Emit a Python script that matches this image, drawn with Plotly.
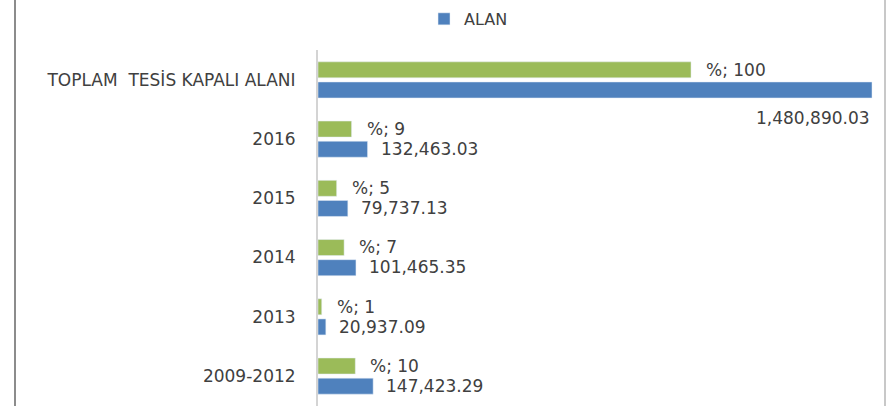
import plotly.graph_objects as go

# Facility indoor area by period, with each period's share of the total
categories = ["TOPLAM\u00a0 TESİS KAPALI ALANI", "2016", "2015", "2014", "2013", "2009-2012"]
alan = [1480890.03, 132463.03, 79737.13, 101465.35, 20937.09, 147423.29]
yuzde = [100, 9, 5, 7, 1, 10]

GREEN = "#9BBB59"
BLUE = "#4F81BD"
TEXT = "#404040"
FONT = "DejaVu Sans"

W, H = 894, 406
L, R, T, B = 318, 9, 50, 0

fig = go.Figure()

# share (%) on the secondary x axis, drawn above the area bar
fig.add_trace(go.Bar(
    y=categories, x=yuzde, orientation="h", xaxis="x2", yaxis="y",
    marker=dict(color=GREEN), width=0.27, offset=-0.30,
    name="%", showlegend=False, hoverinfo="skip",
))
# area on the primary x axis
fig.add_trace(go.Bar(
    y=categories, x=alan, orientation="h", xaxis="x", yaxis="y",
    marker=dict(color=BLUE), width=0.27, offset=0.04,
    name="ALAN", showlegend=True, hoverinfo="skip",
))

# value labels; y given as the category index so year-like names stay categorical
annotations = []
for i, (a, p) in enumerate(zip(alan, yuzde)):
    annotations.append(dict(
        x=p, y=i, xref="x2", yref="y", text=f"%; {p}",
        xanchor="left", yanchor="middle", xshift=13, yshift=10,
        showarrow=False, font=dict(family=FONT, size=17, color=TEXT),
    ))
    label = f"{a:,.2f}"
    if i == 0:
        annotations.append(dict(
            x=a, y=i, xref="x", yref="y", text=label,
            xanchor="right", yanchor="middle", xshift=0, yshift=-38,
            showarrow=False, font=dict(family=FONT, size=17, color=TEXT),
        ))
    else:
        annotations.append(dict(
            x=a, y=i, xref="x", yref="y", text=label,
            xanchor="left", yanchor="middle", xshift=11, yshift=-10,
            showarrow=False, font=dict(family=FONT, size=17, color=TEXT),
        ))

fig.update_layout(
    width=W, height=H,
    margin=dict(l=L, r=R, t=T, b=B, autoexpand=False),
    paper_bgcolor="white", plot_bgcolor="white",
    barmode="overlay",
    font=dict(family=FONT, color=TEXT),
    xaxis=dict(range=[0, 1515640], showticklabels=False, showgrid=False,
               zeroline=False, showline=False, ticks=""),
    xaxis2=dict(range=[0, 152.0], overlaying="x", side="top",
                showticklabels=False, showgrid=False, zeroline=False,
                showline=False, ticks=""),
    yaxis=dict(type="category", categoryorder="array", categoryarray=categories,
               range=[5.51, -0.5], showgrid=False, zeroline=False,
               showline=True, linecolor="#d4d4d4", linewidth=2,
               ticks="", ticklabelstandoff=17,
               tickfont=dict(family=FONT, size=17, color=TEXT)),
    legend=dict(orientation="h", x=0.187, y=1.135, xanchor="left",
                yanchor="top", font=dict(family=FONT, size=16, color=TEXT),
                bgcolor="rgba(0,0,0,0)"),
    annotations=annotations,
    shapes=[
        dict(type="line", xref="paper", yref="paper",
             x0=(15 - L) / (W - L - R), x1=(15 - L) / (W - L - R),
             y0=-0.05, y1=1.2, line=dict(color="#8c8c8c", width=2)),
        dict(type="line", xref="paper", yref="paper", x0=1.0, x1=1.0,
             y0=-0.05, y1=1.2, line=dict(color="#c8c8c8", width=2)),
    ],
)

fig.write_html("out.html")
